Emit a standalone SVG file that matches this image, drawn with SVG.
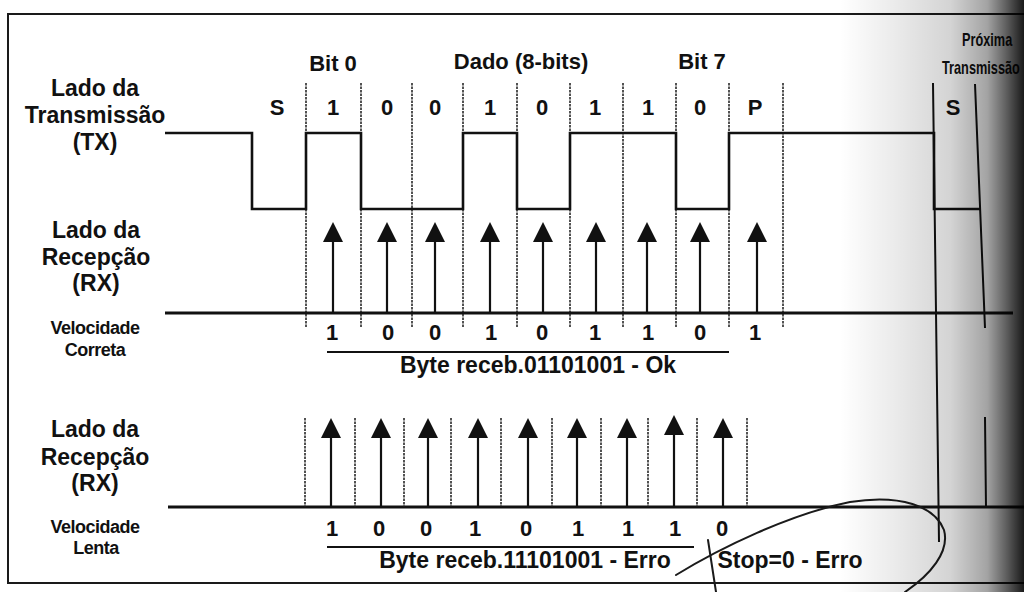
<svg xmlns="http://www.w3.org/2000/svg" width="1024" height="592" viewBox="0 0 1024 592">
<style>
text{font-family:"Liberation Sans",Arial,sans-serif;font-weight:bold;fill:#111}
.lbl{font-size:23px;text-anchor:middle}
.sm{font-size:18px;text-anchor:middle;letter-spacing:-0.5px}
.bit{font-size:22px;text-anchor:middle}
.hd{font-size:22px;text-anchor:middle}
.cap{font-size:23px;text-anchor:middle}
.prx{font-size:15px}
.frame{stroke:#1a1a1a;stroke-width:2;fill:none}
.wave{stroke:#111;stroke-width:2.6;fill:none}
.base{stroke:#111;stroke-width:2.8;fill:none}
.dash{stroke:#1a1a1a;stroke-width:1.5;stroke-dasharray:2.5 1;fill:none}
.solid{stroke:#111;stroke-width:2;fill:none}
.arr{stroke:#111;stroke-width:2.2;marker-end:url(#ah)}
.ul{stroke:#111;stroke-width:2.2}
.pen{stroke:#1b1b1b;stroke-width:2;fill:none;stroke-linecap:round}
</style>
<defs>
<marker id="ah" markerUnits="userSpaceOnUse" viewBox="0 0 20 20" refX="10" refY="10" markerWidth="20" markerHeight="20" orient="auto">
<path d="M0 0 L20 10 L0 20 Z" fill="#111"/>
</marker>
<linearGradient id="shade" gradientUnits="userSpaceOnUse" x1="840" y1="0" x2="1024" y2="0">
<stop offset="0" stop-color="#000" stop-opacity="0"/>
<stop offset="0.3" stop-color="#000" stop-opacity="0.08"/>
<stop offset="0.6" stop-color="#000" stop-opacity="0.17"/>
<stop offset="0.8" stop-color="#000" stop-opacity="0.36"/>
<stop offset="0.9" stop-color="#000" stop-opacity="0.62"/>
<stop offset="1" stop-color="#000" stop-opacity="0.9"/>
</linearGradient>
</defs>
<rect width="1024" height="592" fill="#fff"/>

<g id="frame">
<path class="frame" d="M1024 14 H8 V583 H1024"/>
</g>

<g id="header">
<text class="hd" x="333" y="71">Bit 0</text>
<text class="hd" x="521" y="69">Dado (8-bits)</text>
<text class="hd" x="702" y="69">Bit 7</text>
<text class="prx" transform="translate(962 46) scale(0.85 1.2)">Próxima</text>
<text class="prx" transform="translate(942 74) scale(0.85 1.2)">Transmissão</text>
</g>

<g id="tx-label">
<text class="lbl" x="95" y="96">Lado da</text>
<text class="lbl" x="95" y="123">Transmissão</text>
<text class="lbl" x="95" y="150">(TX)</text>
</g>

<g id="rx-correct-label">
<text class="lbl" x="96" y="238">Lado da</text>
<text class="lbl" x="96" y="265">Recepção</text>
<text class="lbl" x="96" y="291">(RX)</text>
<text class="sm" x="95" y="334">Velocidade</text>
<text class="sm" x="95" y="356">Correta</text>
</g>

<g id="rx-slow-label">
<text class="lbl" x="95" y="437">Lado da</text>
<text class="lbl" x="95" y="465">Recepção</text>
<text class="lbl" x="95" y="491">(RX)</text>
<text class="sm" x="95" y="533">Velocidade</text>
<text class="sm" x="96" y="554">Lenta</text>
</g>

<g id="tx-bits">
<text class="bit" x="277" y="115">S</text>
<text class="bit" x="333" y="115">1</text>
<text class="bit" x="387" y="115">0</text>
<text class="bit" x="435" y="115">0</text>
<text class="bit" x="490" y="115">1</text>
<text class="bit" x="542" y="115">0</text>
<text class="bit" x="595" y="115">1</text>
<text class="bit" x="648" y="115">1</text>
<text class="bit" x="700" y="115">0</text>
<text class="bit" x="755" y="115">P</text>
<text class="bit" x="953" y="115">S</text>
</g>

<g id="tx-wave">
<path class="dash" d="M306 83 V328 M361 83 V328 M412 83 V328 M463 83 V328 M517 83 V328 M570 83 V328 M623 83 V328 M676 83 V328 M729 83 V328 M783 83 V328"/>
<path class="wave" d="M165 133 H252 V209 H306 V133 H361 V209 H463 V133 H517 V209 H570 V133 H676 V209 H729 V133 H934 V209 H980"/>
<path class="solid" d="M933 83 L939 542 M975 84 L985 328 M985 417 L986 508"/>
</g>

<g id="rx-correct">
<path class="base" d="M165 313 H1013"/>
<text class="bit" x="332" y="340">1</text>
<text class="bit" x="388" y="340">0</text>
<text class="bit" x="435" y="340">0</text>
<text class="bit" x="491" y="340">1</text>
<text class="bit" x="542" y="340">0</text>
<text class="bit" x="595" y="340">1</text>
<text class="bit" x="648" y="340">1</text>
<text class="bit" x="700" y="340">0</text>
<text class="bit" x="755" y="340">1</text>
<line class="ul" x1="327" y1="352" x2="729" y2="352"/>
<text class="cap" x="538" y="373">Byte receb.01101001 - Ok</text>
</g>

<g id="rx-slow">
<path class="base" d="M168 507 H1024"/>
<path class="dash" d="M305 418 V507 M355 418 V507 M404 418 V507 M451 418 V507 M501 418 V507 M552 418 V507 M601 418 V507 M648 418 V507 M697 418 V507 M747 418 V507"/>
<text class="bit" x="332" y="536">1</text>
<text class="bit" x="379" y="536">0</text>
<text class="bit" x="426" y="536">0</text>
<text class="bit" x="475" y="536">1</text>
<text class="bit" x="526" y="536">0</text>
<text class="bit" x="578" y="536">1</text>
<text class="bit" x="628" y="536">1</text>
<text class="bit" x="675" y="536">1</text>
<text class="bit" x="722" y="536">0</text>
<line class="ul" x1="327" y1="547" x2="694" y2="547"/>
<text class="cap" x="525" y="568">Byte receb.11101001 - Erro</text>
<text class="cap" x="790" y="568">Stop=0 - Erro</text>
</g>

<g id="connectors">
<line class="arr" x1="333" y1="313" x2="333" y2="232"/>
<line class="arr" x1="387" y1="313" x2="387" y2="232"/>
<line class="arr" x1="435" y1="313" x2="435" y2="232"/>
<line class="arr" x1="490" y1="313" x2="490" y2="232"/>
<line class="arr" x1="543" y1="313" x2="543" y2="232"/>
<line class="arr" x1="596" y1="313" x2="596" y2="232"/>
<line class="arr" x1="647" y1="313" x2="647" y2="232"/>
<line class="arr" x1="700" y1="313" x2="700" y2="232"/>
<line class="arr" x1="757" y1="313" x2="757" y2="232"/>
<line class="arr" x1="331" y1="507" x2="331" y2="428"/>
<line class="arr" x1="381" y1="507" x2="381" y2="428"/>
<line class="arr" x1="428" y1="507" x2="428" y2="428"/>
<line class="arr" x1="478" y1="507" x2="478" y2="428"/>
<line class="arr" x1="528" y1="507" x2="528" y2="428"/>
<line class="arr" x1="577" y1="507" x2="577" y2="428"/>
<line class="arr" x1="627" y1="507" x2="627" y2="428"/>
<line class="arr" x1="674" y1="507" x2="674" y2="425"/>
<line class="arr" x1="723" y1="507" x2="723" y2="428"/>
</g>

<g id="pen-mark">
<path class="pen" d="M676 575 C720 548 790 514 850 502 C900 494 935 506 944 530 C950 552 930 575 905 592" />
<path class="pen" d="M708 540 L716 592"/>
</g>

<rect id="page-shade" x="840" y="0" width="184" height="592" fill="url(#shade)"/>
</svg>
